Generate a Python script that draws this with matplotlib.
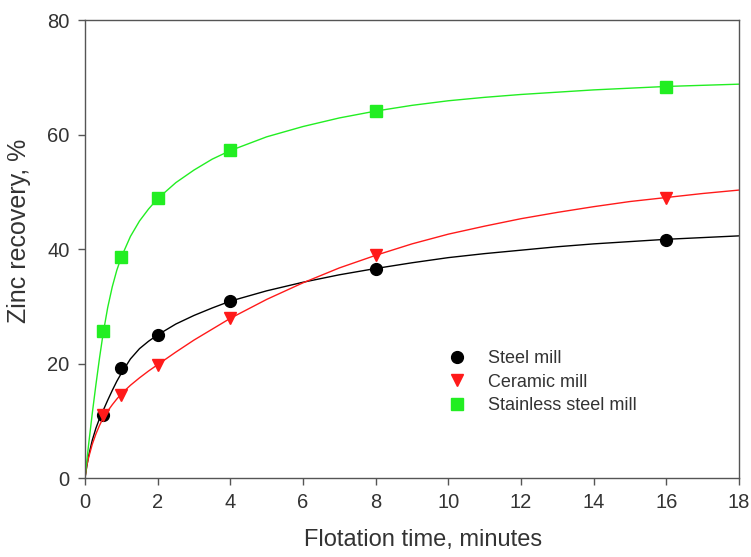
import numpy as np
import matplotlib.pyplot as plt
from matplotlib.lines import Line2D

plt.rcParams['font.family'] = ['Liberation Sans', 'DejaVu Sans']

# --- measured points (minutes, % recovery)
t_data = [0.5, 1, 2, 4, 8, 16]
steel = [11.0, 19.2, 24.9, 31.0, 36.5, 41.6]
ceramic = [11.0, 14.5, 19.7, 27.9, 38.9, 49.0]
stainless = [25.6, 38.6, 48.9, 57.3, 64.2, 68.3]

# --- fitted curves
t_fit = [0, 0.05, 0.1, 0.2, 0.3, 0.4, 0.5, 0.625, 0.75, 0.875, 1, 1.25, 1.5, 1.75, 2, 2.5, 3, 3.5, 4,
	5, 6, 7, 8, 9, 10, 11, 12, 13, 14, 15, 16, 17, 18]
steel_fit = [0, 2.1, 3.9, 6.6, 8.7, 10.4, 11.8, 13.6, 15.3, 16.9, 18.3, 20.8, 22.6, 23.9, 25.0, 26.9, 28.4, 29.7, 30.9,
	32.7, 34.2, 35.5, 36.6, 37.6, 38.5, 39.2, 39.8, 40.4, 40.9, 41.3, 41.7, 42.0, 42.3]
ceramic_fit = [0, 2.2, 3.6, 5.9, 7.7, 9.2, 10.5, 11.7, 12.8, 13.8, 14.7, 16.2, 17.5, 18.7, 19.8, 22.0, 24.1, 26.0, 27.9,
	31.2, 34.1, 36.7, 38.9, 40.9, 42.6, 44.0, 45.3, 46.4, 47.4, 48.3, 49.0, 49.7, 50.3]
stainless_fit = [0, 3.0, 5.9, 11.3, 16.3, 21.0, 25.3, 29.8, 33.4, 36.3, 38.6, 42.2, 44.9, 47.0, 48.8, 51.6, 53.8, 55.7, 57.2,
	59.6, 61.4, 62.9, 64.1, 65.1, 65.9, 66.5, 67.0, 67.4, 67.8, 68.1, 68.4, 68.6, 68.8]

labels = ['Steel mill', 'Ceramic mill', 'Stainless steel mill']
colors = ['black', '#ff1a1a', '#22ee22']
markers = ['o', 'v', 's']
sizes = [8.5, 8.5, 8]

fig = plt.figure(figsize=(7.51, 5.57), dpi=100)
ax = fig.add_axes([0.1132, 0.1418, 0.8708, 0.8222])

series = [(steel, steel_fit), (ceramic, ceramic_fit), (stainless, stainless_fit)]
handles = []
for (pts, fit), c, m, ms, lab in zip(series, colors, markers, sizes, labels):
	ax.plot(t_fit, fit, color=c, lw=1.0)
	ax.plot(t_data, pts, ls='none', marker=m, color=c, ms=ms, mec=c)
	handles.append(Line2D([], [], ls='none', marker=m, color=c, ms=ms, label=lab))

ax.set_xlim(0, 18)
ax.set_ylim(0, 80)
ax.set_xticks(np.arange(0, 19, 2))
ax.set_yticks(np.arange(0, 81, 20))

for s in ax.spines.values():
	s.set_color('#555555')
	s.set_linewidth(1.0)
ax.tick_params(direction='out', length=5, width=1, color='#555555', labelsize=14.5, labelcolor='#333333',
	top=False, right=False)
ax.tick_params(axis='x', pad=6)
ax.tick_params(axis='y', pad=6)

ax.set_xlabel('Flotation time, minutes', fontsize=17, color='#333333')
ax.set_ylabel('Zinc recovery, %', fontsize=18, color='#333333')
ax.xaxis.set_label_coords(0.517, -0.112)
ax.yaxis.set_label_coords(-0.082, 0.54)

ax.legend(handles=handles, loc='upper left', bbox_to_anchor=(0.53, 0.314), frameon=False,
	fontsize=13, handlelength=1.0, handletextpad=1.25, labelspacing=0.35, labelcolor='#333333')

fig.savefig('out.png', dpi=100)
